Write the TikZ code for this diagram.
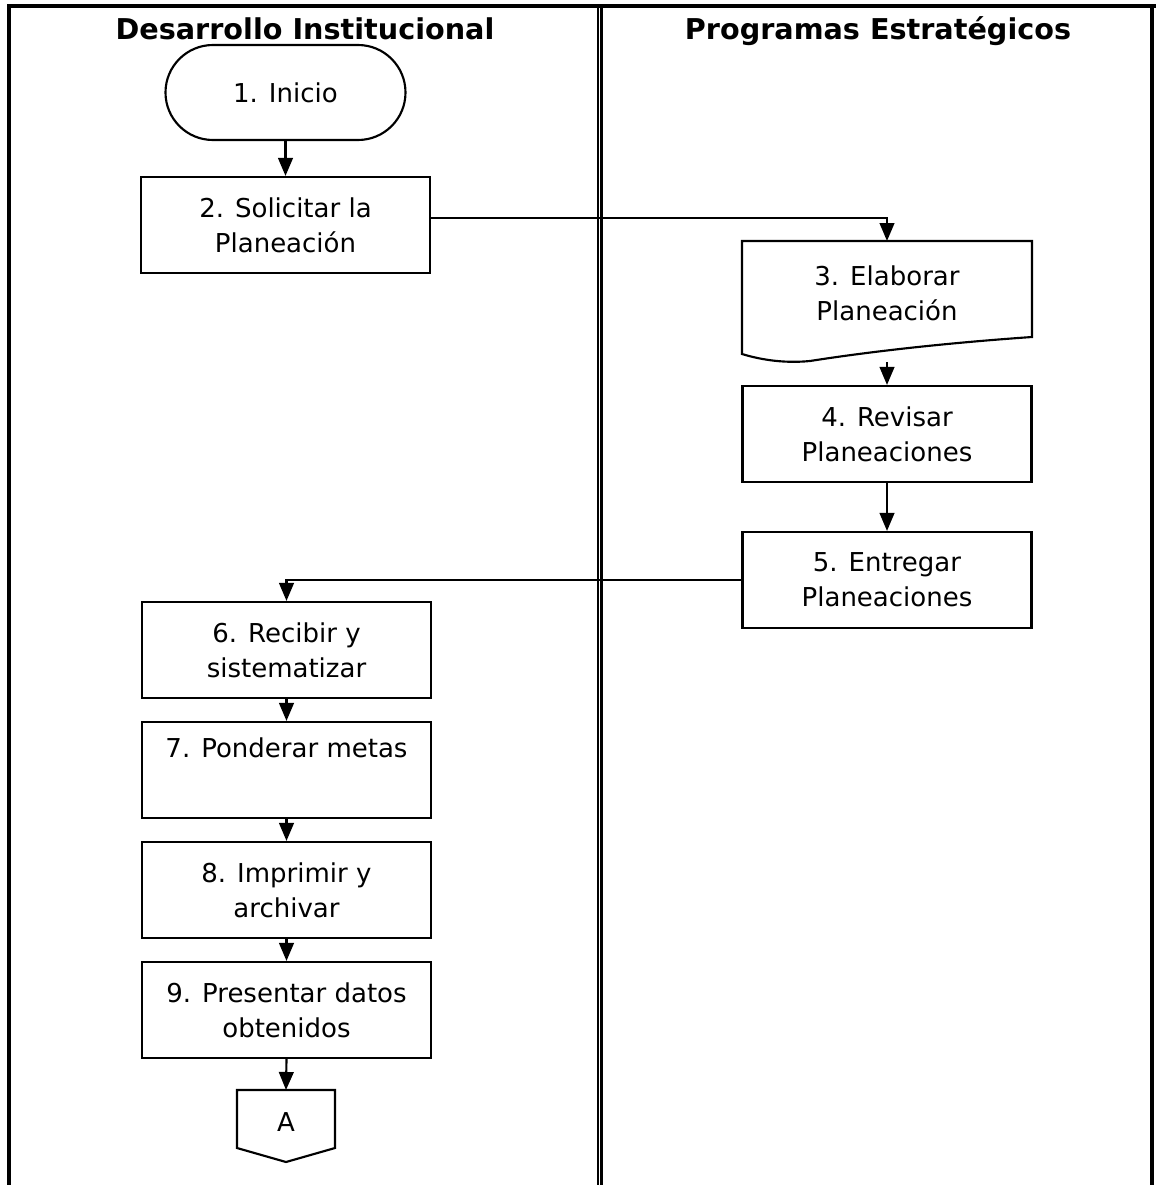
\documentclass[tikz,border=0pt]{standalone}
\usepackage{fontspec}
\setmainfont{DejaVu Sans}
\usetikzlibrary{arrows.meta,calc}

\begin{document}
\begin{tikzpicture}[x=0.75pt,y=-0.75pt,
  body/.style={font=\fontsize{19.5}{26.25}\selectfont},
  box/.style={body,draw,line width=1.6pt,minimum width=216.75pt,minimum height=72pt,align=center,inner sep=0pt},
  terminal/.style={body,draw,line width=1.6pt,minimum width=180pt,minimum height=71.25pt,rounded corners=35.6pt,inner sep=0pt},
  plain/.style={body,align=center,inner sep=0pt},
  header/.style={font=\fontsize{21.5}{26}\selectfont\bfseries,inner sep=0pt,anchor=base},
  arr/.style={line width=1.6pt,-{Triangle[length=13.5pt,width=11pt]}},
  shapeline/.style={line width=1.6pt},
  frame/.style={line width=3pt},
  lane/.style={line width=1.7pt}
]
\useasboundingbox (0,0) rectangle (1156,1185);

% swimlane frame
\draw[frame] (7,5.5) -- (1156,5.5);
\draw[frame] (9,5.5) -- (9,1185);
\draw[frame] (1152,5.5) -- (1152,1185);
\draw[lane] (598,5.5) -- (598,1185);
\draw[lane] (601.5,5.5) -- (601.5,1185);

% lane titles
\node[header] (h1) at (305,39) {Desarrollo Institucional};
\node[header] (h2) at (878,39) {Programas Estratégicos};

% left lane
\node[terminal] (n1) at (285.5,92.5) {1. Inicio};
\node[box] (n2) at (285.5,225) {2. Solicitar la\\Planeación};

% right lane: document shape for step 3
\draw[shapeline] (742,241) -- (1032,241) -- (1032,337)
  .. controls (960,342) and (880,350) .. (810,361)
  .. controls (780,364) and (755,358) .. (742,354) -- cycle;
\node[plain] (n3) at (887,293) {3. Elaborar\\Planeación};
\coordinate (n3out) at (887,362);

\node[box] (n4) at (887,434) {4. Revisar\\Planeaciones};
\node[box] (n5) at (887,580) {5. Entregar\\Planeaciones};

\node[box] (n6) at (286.5,650) {6. Recibir y\\sistematizar};
\node[box] (n7) at (286.5,770) {7. Ponderar metas\\\strut};
\node[box] (n8) at (286.5,890) {8. Imprimir y\\archivar};
\node[box] (n9) at (286.5,1010) {9. Presentar datos\\obtenidos};

% off-page connector
\draw[shapeline] (237,1090) -- (335,1090) -- (335,1148) -- (286,1162) -- (237,1148) -- cycle;
\node[plain] (nA) at (286,1122) {A};
\coordinate (nAin) at (286,1090);

% connectors
\draw[arr] (n1.south) -- (n2.north);
\draw[arr] ($(n2.east)+(0,-7)$) -| (n3.north |- 0,241);
\draw[arr] (n3out) -- (n4.north);
\draw[arr] (n4.south) -- (n5.north);
\draw[arr] (n5.west) -| (n6.north);
\draw[arr] (n6.south) -- (n7.north);
\draw[arr] (n7.south) -- (n8.north);
\draw[arr] (n8.south) -- (n9.north);
\draw[arr] (n9.south) -- (nAin);
\end{tikzpicture}
\end{document}
